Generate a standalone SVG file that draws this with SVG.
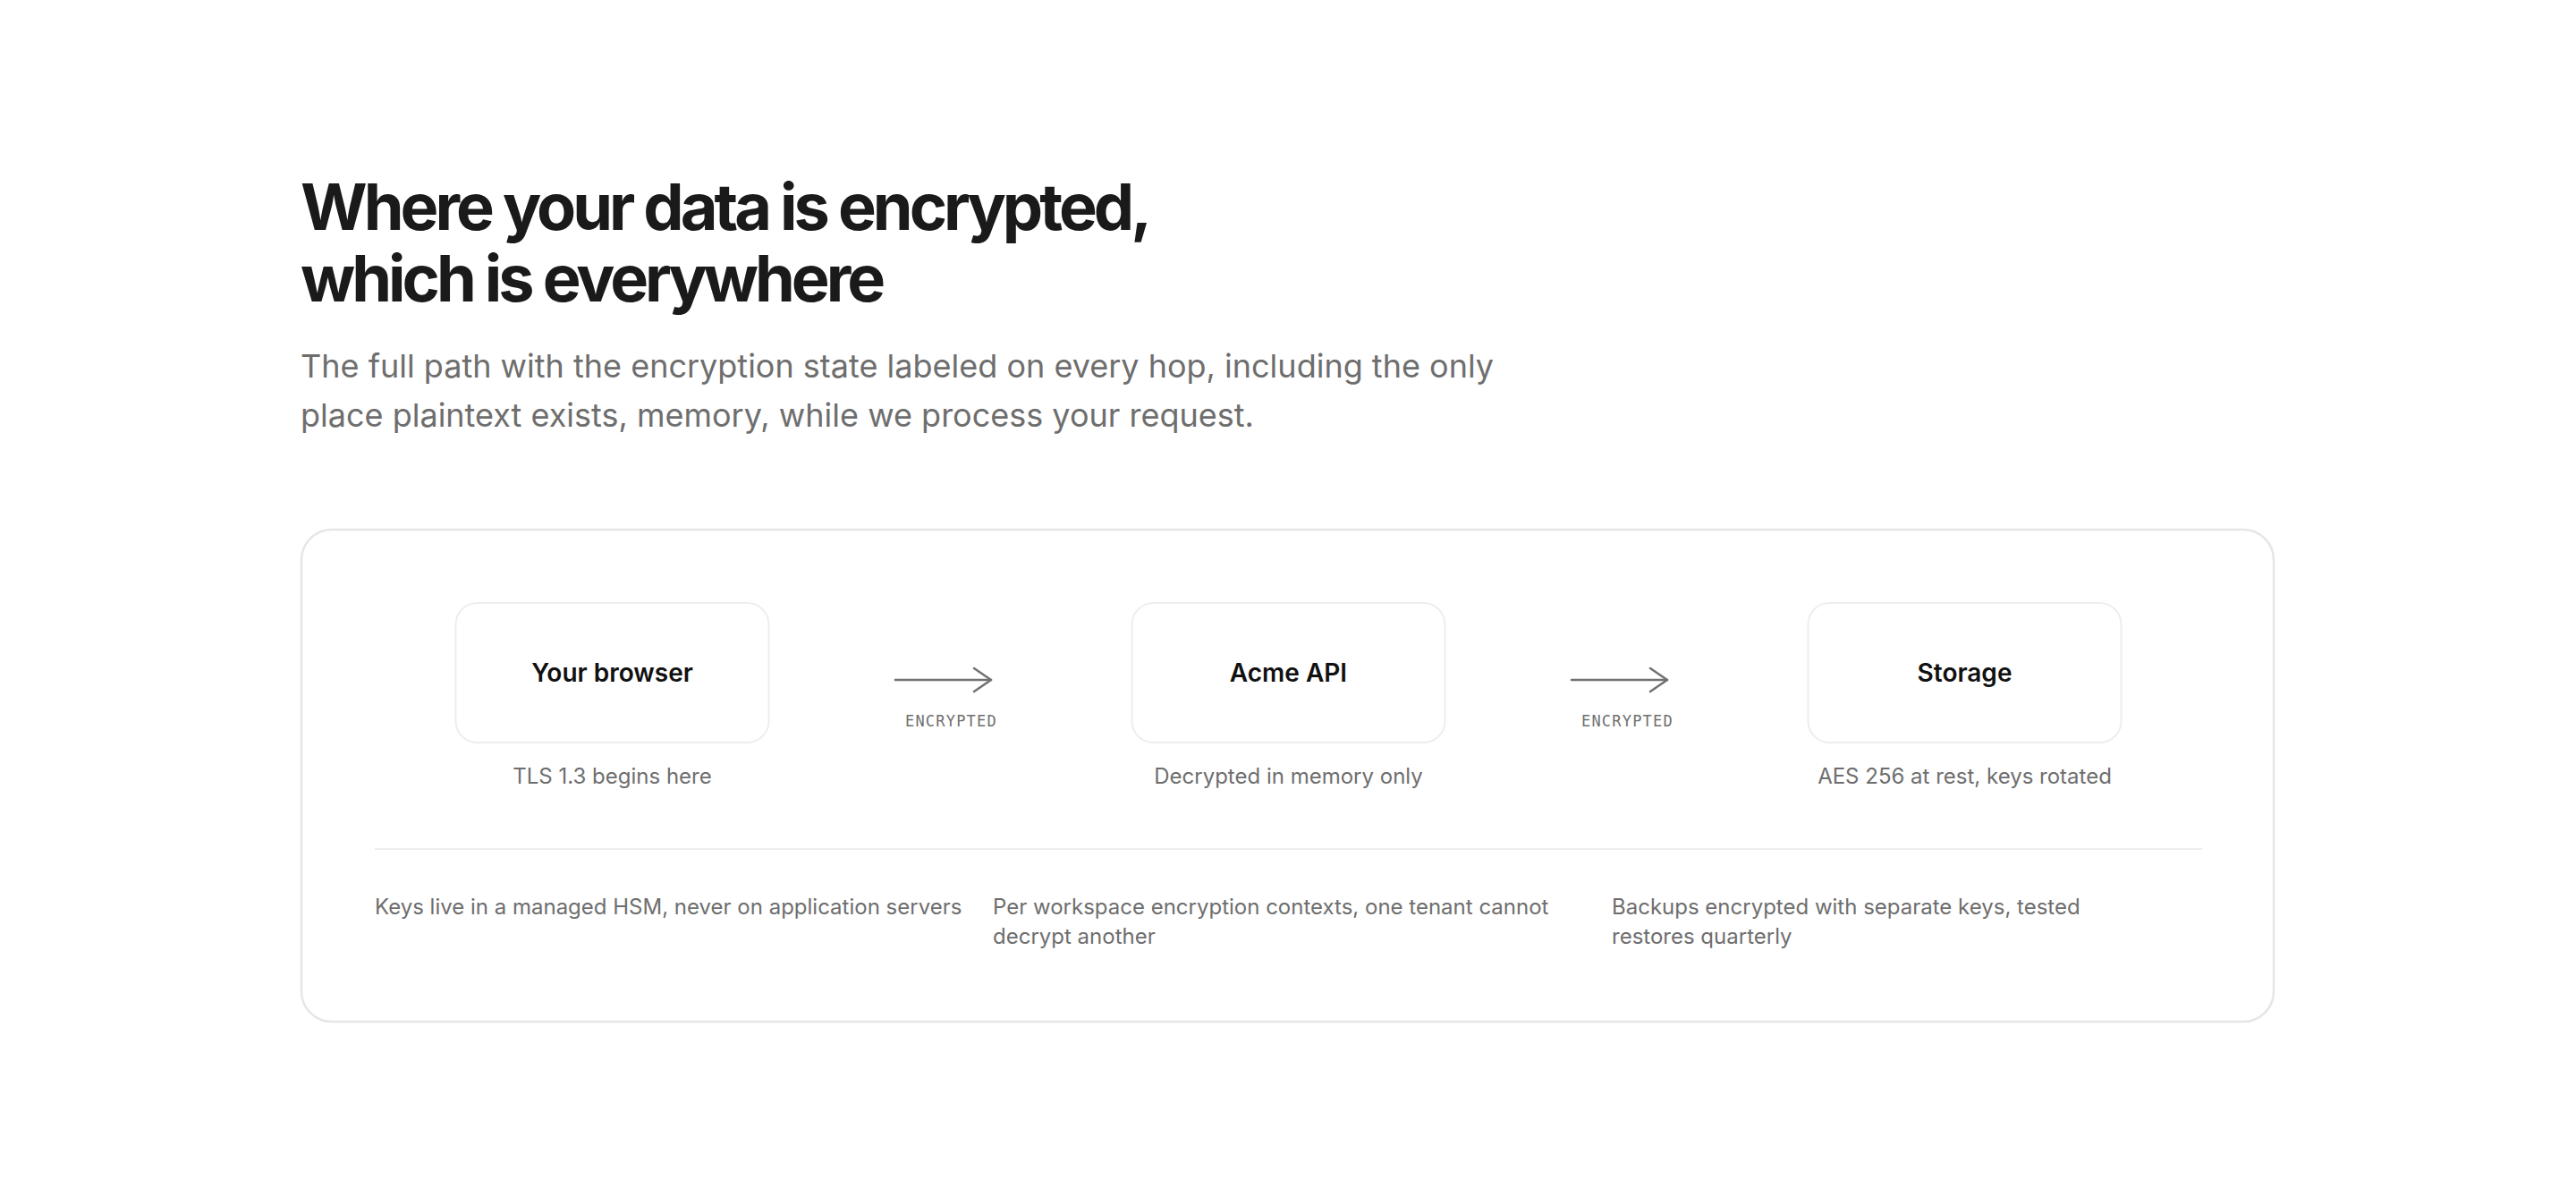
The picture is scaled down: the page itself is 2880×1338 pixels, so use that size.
<svg xmlns="http://www.w3.org/2000/svg" width="2880" height="1338" viewBox="0 0 2880 1338">
  <defs>
    <style>
      .title { font-family: Inter, "Liberation Sans", sans-serif; font-weight: 700; font-size: 72px; fill: #1a1a1a; letter-spacing: -4px; }
      .sub { font-family: Inter, "Liberation Sans", sans-serif; font-weight: 400; font-size: 36px; fill: #6e6e6e; }
      .card { fill: #ffffff; stroke: #e6e6e6; stroke-width: 2.5; }
      .node { fill: #ffffff; stroke: #eeeeee; stroke-width: 2; }
      .nlabel { font-family: Inter, "Liberation Sans", sans-serif; font-weight: 600; font-size: 28px; fill: #111111; text-anchor: middle; }
      .cap { font-family: Inter, "Liberation Sans", sans-serif; font-weight: 400; font-size: 24px; fill: #6e6e6e; text-anchor: middle; }
      .note { font-family: Inter, "Liberation Sans", sans-serif; font-weight: 400; font-size: 24px; fill: #6e6e6e; }
      .edge { stroke: #717171; stroke-width: 2.5; fill: none; stroke-linecap: round; }
      .elabel { font-family: "DejaVu Sans Mono", "Liberation Mono", monospace; font-size: 17px; fill: #707070; letter-spacing: 1.2px; }
      .divider { stroke: #ededed; stroke-width: 2; }
    </style>
    <marker id="chev" markerUnits="userSpaceOnUse" markerWidth="26" markerHeight="32" viewBox="0 0 26 32" refX="22" refY="16" orient="auto">
      <path d="M3,3 L22,16 L3,29" fill="none" stroke="#717171" stroke-width="2.5" stroke-linecap="round" stroke-linejoin="round"/>
    </marker>
  </defs>

  <rect width="2880" height="1338" fill="#ffffff"/>

  <g id="header">
    <text class="title" x="336" y="257">Where your data is encrypted,</text>
    <text class="title" x="336" y="337">which is everywhere</text>
    <text class="sub" x="336" y="422">The full path with the encryption state labeled on every hop, including the only</text>
    <text class="sub" x="336" y="477">place plaintext exists, memory, while we process your request.</text>
  </g>

  <g id="card">
    <rect class="card" x="337" y="592" width="2205" height="550" rx="34"/>
  </g>

  <g id="node-browser">
    <rect class="node" x="509.5" y="674" width="350" height="156" rx="24"/>
    <text class="nlabel" x="684.5" y="762">Your browser</text>
    <text class="cap" x="684.5" y="876">TLS 1.3 begins here</text>
  </g>

  <g id="node-api">
    <rect class="node" x="1265.5" y="674" width="350" height="156" rx="24"/>
    <text class="nlabel" x="1440.5" y="762">Acme API</text>
    <text class="cap" x="1440.5" y="876">Decrypted in memory only</text>
  </g>

  <g id="node-storage">
    <rect class="node" x="2021.5" y="674" width="350" height="156" rx="24"/>
    <text class="nlabel" x="2196.5" y="762">Storage</text>
    <text class="cap" x="2196.5" y="876">AES 256 at rest, keys rotated</text>
  </g>

  <g id="connectors">
    <path class="edge" d="M1001,760 H1108" marker-end="url(#chev)"/>
    <text class="elabel" x="1012" y="812">ENCRYPTED</text>
    <path class="edge" d="M1757,760 H1864" marker-end="url(#chev)"/>
    <text class="elabel" x="1768" y="812">ENCRYPTED</text>
  </g>

  <g id="notes">
    <line class="divider" x1="419" y1="949" x2="2462" y2="949"/>
    <text class="note" x="419" y="1022">Keys live in a managed HSM, never on application servers</text>
    <text class="note" x="1110" y="1022">Per workspace encryption contexts, one tenant cannot</text>
    <text class="note" x="1110" y="1055">decrypt another</text>
    <text class="note" x="1802" y="1022">Backups encrypted with separate keys, tested</text>
    <text class="note" x="1802" y="1055">restores quarterly</text>
  </g>
</svg>
